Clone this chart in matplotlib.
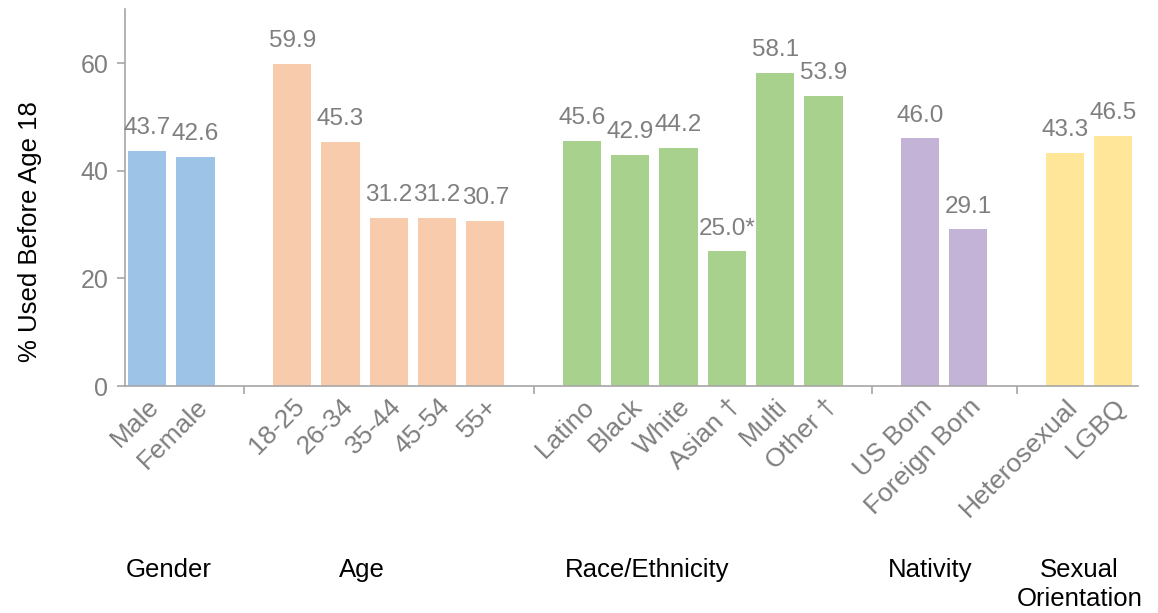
import matplotlib
matplotlib.use("Agg")
import matplotlib.pyplot as plt
from matplotlib.transforms import blended_transform_factory

plt.rcParams['font.family'] = ['Liberation Sans', 'DejaVu Sans']

# Data
categories = ["Male", "Female", "",
              "18-25", "26-34", "35-44", "45-54", "55+", "",
              "Latino", "Black", "White", "Asian \u2020", "Multi", "Other \u2020", "",
              "US Born", "Foreign Born", "",
              "Heterosexual", "LGBQ"]
values = [43.7, 42.6, None,
          59.9, 45.3, 31.2, 31.2, 30.7, None,
          45.6, 42.9, 44.2, 25.0, 58.1, 53.9, None,
          46.0, 29.1, None,
          43.3, 46.5]
value_labels = ["43.7", "42.6", "",
                "59.9", "45.3", "31.2", "31.2", "30.7", "",
                "45.6", "42.9", "44.2", "25.0*", "58.1", "53.9", "",
                "46.0", "29.1", "",
                "43.3", "46.5"]
group_of = [0, 0, None, 1, 1, 1, 1, 1, None, 2, 2, 2, 2, 2, 2, None, 3, 3, None, 4, 4]
group_names = ["Gender", "Age", "Race/Ethnicity", "Nativity", "Sexual\nOrientation"]
group_colors = ["#9DC3E6", "#F8CBAD", "#A9D18E", "#C3B3D7", "#FFE699"]
group_label_x = [0.45, 4.45, 10.35, 16.2, 19.3]

fig = plt.figure(figsize=(11.58, 6.13), dpi=100)
ax = fig.add_axes([0.108, 0.3703, 0.875, 0.6147])

xs = [i for i, v in enumerate(values) if v is not None]
hs = [v for v in values if v is not None]
cs = [group_colors[group_of[i]] for i in xs]
ax.bar(xs, hs, width=0.79, color=cs, zorder=2)

gray = "#7F7F7F"
for i in xs:
    ax.annotate(value_labels[i], (i, values[i]), xytext=(0, 8.5), textcoords="offset points",
                ha="center", va="bottom", fontsize=17.5, color=gray)

ax.set_xlim(-0.46, 20.52)
ax.set_ylim(0, 70)
ax.set_yticks([0, 20, 40, 60])
ax.tick_params(axis='y', labelsize=18, labelcolor=gray, color="#A6A6A6", length=6, width=1.2, pad=6)

# category tick labels (no tick marks), rotated
ax.set_xticks(xs)
ax.set_xticklabels([categories[i] for i in xs], rotation=45, ha="right", va="top",
                   rotation_mode="anchor", fontsize=19, color=gray)
ax.tick_params(axis='x', length=0, pad=6)
# group separator tick marks at the blank slots
blank = [i for i, v in enumerate(values) if v is None]
ax.set_xticks(blank, minor=True)
ax.tick_params(axis='x', which='minor', length=6, width=1.2, color="#A6A6A6")

for s in ["top", "right"]:
    ax.spines[s].set_visible(False)
for s in ["left", "bottom"]:
    ax.spines[s].set_color("#A6A6A6")
    ax.spines[s].set_linewidth(1.2)

ax.set_ylabel("% Used Before Age 18", fontsize=18.5, color="black")
ax.yaxis.set_label_coords(-0.082, 0.411)

trans = blended_transform_factory(ax.transData, fig.transFigure)
for name, x in zip(group_names, group_label_x):
    ax.text(x, 1 - 558 / 613, name, transform=trans, ha="center", va="top",
            fontsize=18.5, color="black", linespacing=1.25)

fig.savefig("out.png", dpi=100)
